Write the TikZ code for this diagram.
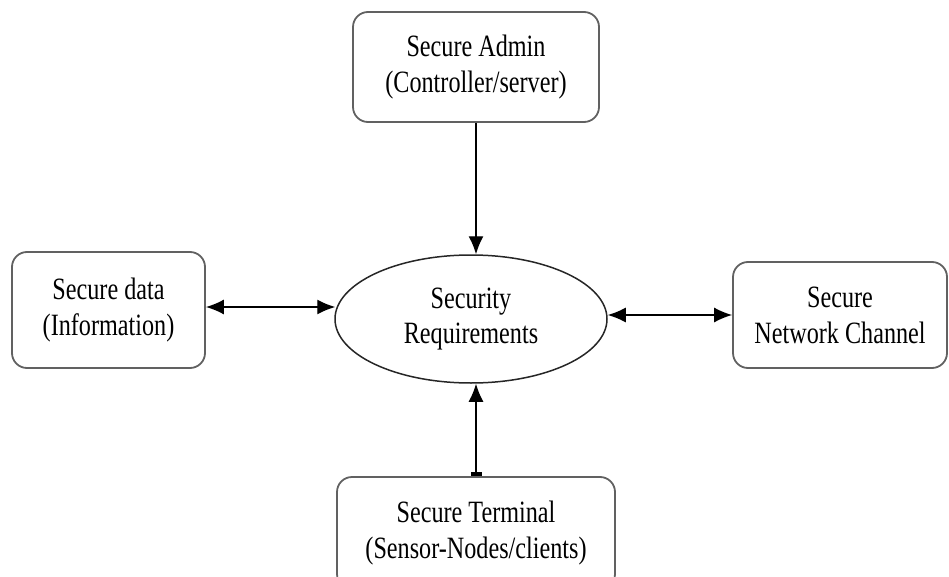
\documentclass[tikz,border=0pt]{standalone}
\usepackage{fontspec}
\setmainfont[FakeStretch=0.78]{Liberation Serif}
\usetikzlibrary{arrows.meta,shapes.geometric,calc}
\begin{document}
\begin{tikzpicture}[x=1pt,y=-1pt,
  box/.style={draw=black!62, line width=1.8pt, rounded corners=15pt, fill=white,
    inner sep=0pt, align=center, font=\fontsize{31}{36}\selectfont},
  req/.style={draw=black!85, line width=1.5pt, ellipse, fill=white,
    inner sep=0pt, align=center, font=\fontsize{31}{35}\selectfont},
  conn/.style={draw=black, line width=1.4pt},
  tip/.tip={Latex[length=18pt,width=15pt]}
]
\useasboundingbox (0,0) rectangle (949,577);
\clip (0,0) rectangle (949,577);
\node[box, minimum width=246pt, minimum height=110pt] (admin) at (476,67) {Secure Admin\\(Controller/server)};
\node[box, minimum width=193pt, minimum height=116pt] (data) at (108.5,310) {Secure data\\(Information)};
\node[box, minimum width=214pt, minimum height=106pt] (net) at (840,315) {Secure\\Network Channel};
\node[box, minimum width=278pt, minimum height=112pt] (term) at (476,533) {Secure Terminal\\(Sensor-Nodes/clients)};
\node[req, minimum width=272pt, minimum height=128pt] (sec) at (471,319) {Security\\Requirements};
\draw[conn, -tip] (admin.south) -- (admin.south |- sec.north);
\draw[conn, {Rectangle[length=4pt,width=11pt]}-tip] (term.north) -- (term.north |- sec.south);
\draw[conn, tip-tip] ($(data.east)+(0,-3)$) -- ($(data.east -| sec.west)+(1,-3)$);
\draw[conn, tip-tip] (net.west -| sec.east) -- (net.west);
\end{tikzpicture}
\end{document}
